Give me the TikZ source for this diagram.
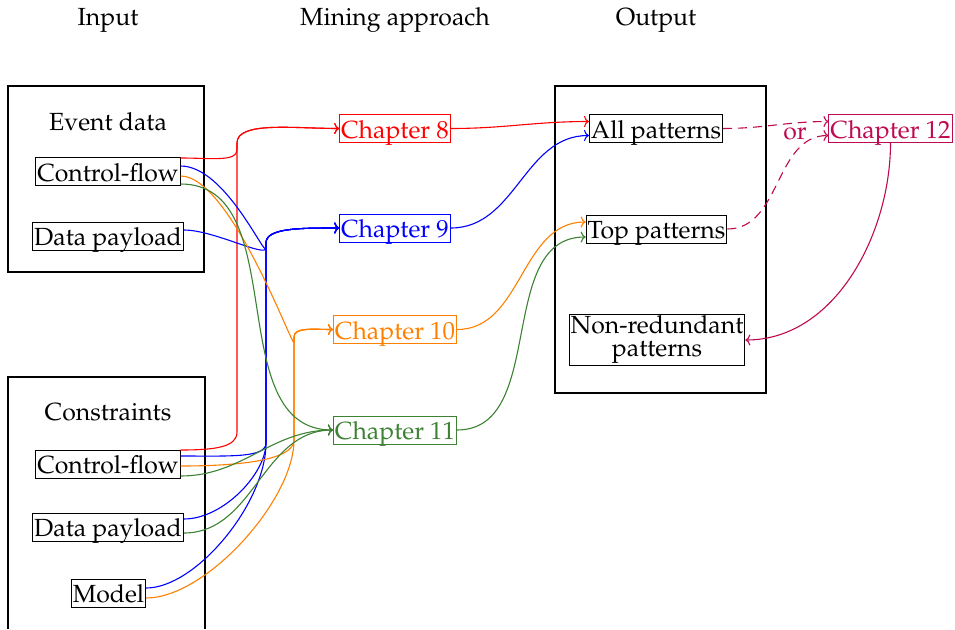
\documentclass[tikz,border=0pt]{standalone}
\usepackage[T1]{fontenc}
\usepackage{mathpazo}
\usetikzlibrary{arrows.meta}

\definecolor{cred}{RGB}{255,0,0}
\definecolor{cblue}{RGB}{0,0,255}
\definecolor{corange}{RGB}{255,128,0}
\definecolor{cgreen}{RGB}{60,130,50}
\definecolor{cpurple}{RGB}{190,10,80}

\begin{document}
\begin{tikzpicture}[x=1pt,y=-1pt,
  every node/.style={font=\fontsize{24.8}{28}\selectfont},
  boxed/.style={draw, line width=1pt, inner xsep=1.5pt, inner ysep=4pt},
  item/.style={boxed, text height=19.5pt, text depth=0.5pt},
  chap/.style={item, draw=#1, text=#1},
  grp/.style={draw, line width=2pt, inner sep=0pt},
  conn/.style={line width=1.1pt, -{To[length=5pt,width=11pt]}},
  dconn/.style={conn, dash pattern=on 9pt off 6pt},
]
\useasboundingbox (0,0) rectangle (955,629);

% column headings
\node (hin)  at (108,20) {Input};
\node (hmin) at (395,20) {Mining approach};
\node (hout) at (656,20) {Output};

% input groups
\node[grp, minimum width=196pt, minimum height=186pt] (evbox) at (106,179) {};
\node (evlbl) at (108,122) {Event data};
\node[item] (ecf) at (108,171.5) {Control-flow};
\node[item] (edp) at (108,236) {Data payload};

\draw[line width=2pt] (8,629) -- (8,377) -- (205,377) -- (205,629);
\node (conlbl) at (108,412) {Constraints};
\node[item] (ccf) at (108,464) {Control-flow};
\node[item] (cdp) at (108,527) {Data payload};
\node[item] (cmod) at (108.5,593) {Model};

% mining approaches
\node[chap=cred]    (ch8)  at (395,128.5) {Chapter 8};
\node[chap=cblue]   (ch9)  at (395,228)   {Chapter 9};
\node[chap=corange] (ch10) at (395,329.5) {Chapter 10};
\node[chap=cgreen]  (ch11) at (395,430)   {Chapter 11};

% output group
\node[grp, minimum width=211pt, minimum height=307pt] (outbox) at (660.5,239.5) {};
\node[item] (allp) at (656,128.5) {All patterns};
\node[item] (topp) at (656.5,229) {Top patterns};
\node[boxed, inner ysep=2pt, align=center, font=\fontsize{24.8}{23}\selectfont]
  (nonr) at (657,340) {Non-redundant\\patterns};
\node[chap=cpurple] (ch12) at (890.5,128.5) {Chapter 12};
\node[text=cpurple] (orlbl) at (795,134) {or};

% bend points of the bundled connectors
\coordinate (rj1) at (237,150);
\coordinate (rj2) at (237,432);
\coordinate (rtop) at (237,143);
\coordinate (bj1) at (266,248);
\coordinate (bj2) at (266,443);
\coordinate (btop) at (266,243);
\coordinate (oj1) at (294,342);
\coordinate (oj2) at (294,440);
\coordinate (otop) at (294,337);

% red: towards Chapter 8
\draw[conn, cred] ([yshift=13.5pt]ecf.east) to[out=0,in=-90,out distance=30pt,in distance=12pt] (rj1)
  -- (rtop) to[out=90,in=180,out distance=22pt,in distance=45pt] (ch8.west);
\draw[conn, cred] ([yshift=14pt]ccf.east) to[out=0,in=-90,out distance=35pt,in distance=15pt] (rj2)
  -- (rtop) to[out=90,in=180,out distance=22pt,in distance=45pt] (ch8.west);

% blue: towards Chapter 9
\draw[conn, cblue] ([yshift=5.5pt]ecf.east) to[out=0,in=-90,out distance=45pt,in distance=12pt] (bj1)
  -- (btop) to[out=90,in=180,out distance=15pt,in distance=40pt] (ch9.west);
\draw[conn, cblue] ([yshift=6pt]edp.east) to[out=0,in=-90,out distance=30pt,in distance=10pt] (bj1)
  -- (btop) to[out=90,in=180,out distance=15pt,in distance=40pt] (ch9.west);
\draw[conn, cblue] ([yshift=8pt]ccf.east) to[out=0,in=-90,out distance=50pt,in distance=15pt] (bj2)
  -- (btop) to[out=90,in=180,out distance=15pt,in distance=40pt] (ch9.west);
\draw[conn, cblue] ([yshift=8pt]cdp.east) to[out=0,in=-90,out distance=40pt,in distance=30pt] (bj2)
  -- (btop) to[out=90,in=180,out distance=15pt,in distance=40pt] (ch9.west);
\draw[conn, cblue] ([yshift=5pt]cmod.east) to[out=0,in=-90,out distance=50pt,in distance=60pt] (bj2)
  -- (btop) to[out=90,in=180,out distance=15pt,in distance=40pt] (ch9.west);

% orange: towards Chapter 10
\draw[conn, corange] ([yshift=-4.5pt]ecf.east) to[out=0,in=-90,out distance=50pt,in distance=10pt] (oj1)
  -- (otop) to[out=90,in=180,out distance=10pt,in distance=20pt] (ch10.west);
\draw[conn, corange] ([yshift=-2pt]ccf.east) to[out=0,in=-90,out distance=60pt,in distance=20pt] (oj2)
  -- (otop) to[out=90,in=180,out distance=10pt,in distance=20pt] (ch10.west);
\draw[conn, corange] ([yshift=-5pt]cmod.east) to[out=0,in=-90,out distance=60pt,in distance=60pt] (oj2)
  -- (otop) to[out=90,in=180,out distance=10pt,in distance=20pt] (ch10.west);

% green: towards Chapter 11
\draw[conn, cgreen] ([yshift=-12.5pt]ecf.east) to[out=0,in=180] (ch11.west);
\draw[conn, cgreen] ([yshift=-12pt]ccf.east) to[out=0,in=180] (ch11.west);
\draw[conn, cgreen] ([yshift=-6pt]cdp.east) to[out=0,in=180] (ch11.west);

% mining approaches to outputs
\draw[conn, cred]    (ch8.east)  to[out=0,in=180] ([yshift=7pt]allp.west);
\draw[conn, cblue]   (ch9.east)  to[out=0,in=180] ([yshift=-7pt]allp.west);
\draw[conn, corange] (ch10.east) to[out=0,in=180] ([yshift=7pt]topp.west);
\draw[conn, cgreen]  (ch11.east) to[out=0,in=180] ([yshift=-8pt]topp.west);

% post-processing
\draw[dconn, cpurple] (allp.east) to[out=0,in=180] ([yshift=7pt]ch12.west);
\draw[dconn, cpurple] (topp.east) to[out=0,in=180] ([yshift=-7pt]ch12.west);
\draw[conn, cpurple] (ch12.south) to[out=-90,in=0,out distance=90pt,in distance=90pt] (nonr.east);
\end{tikzpicture}
\end{document}
